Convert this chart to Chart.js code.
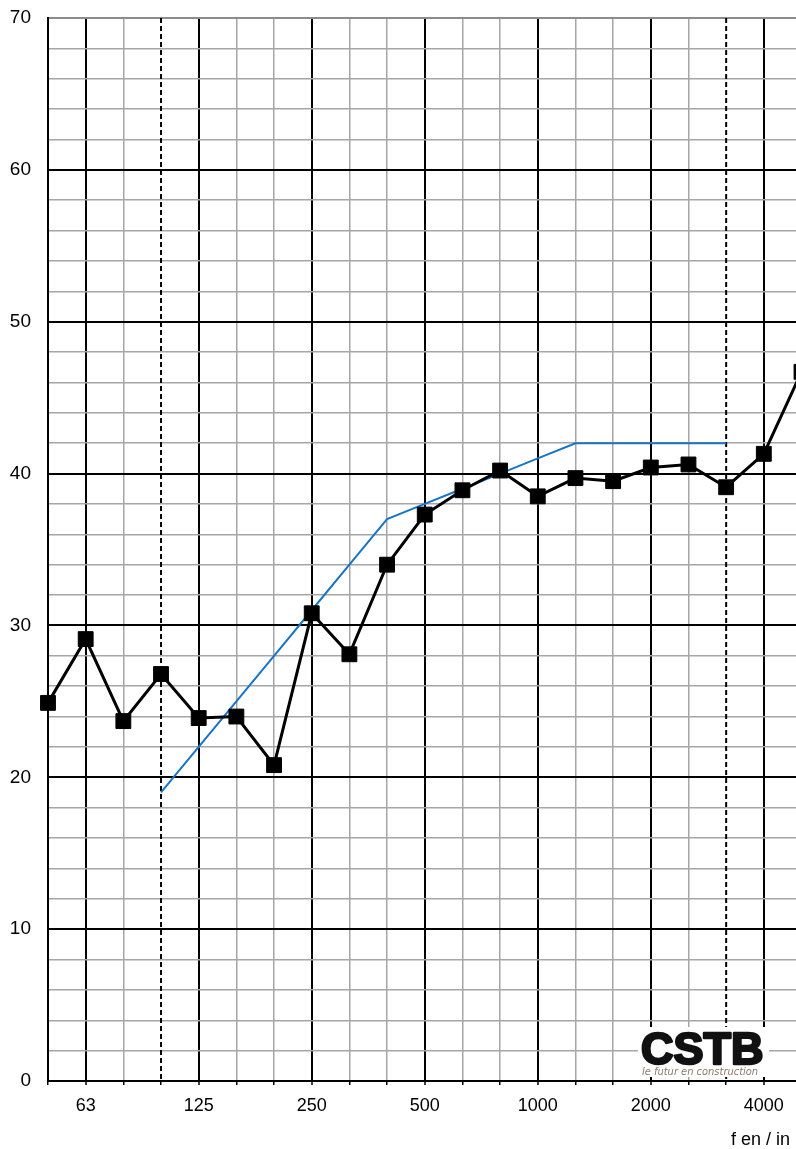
<!DOCTYPE html>
<html lang="fr">
<head>
    <meta charset="UTF-8">
    <title>Indice d'affaiblissement</title>
    <script src="https://cdn.jsdelivr.net/npm/chart.js"></script>
    <style>
        html, body { margin: 0; padding: 0; overflow: hidden; background: #fff; }
    </style>
</head>
<body>
    <canvas id="courbe" width="840" height="1149"></canvas>

    <script>
        // frequences en tiers d'octave
        const frequences = ['50', '63', '80', '100', '125', '160', '200', '250', '315', '400', '500',
                            '630', '800', '1000', '1250', '1600', '2000', '2500', '3150', '4000', '5000'];
        // mesure (dB)
        const mesure = [24.9, 29.1, 23.7, 26.8, 23.9, 24.0, 20.8, 30.8, 28.1, 34.0, 37.3,
                        38.9, 40.2, 38.5, 39.7, 39.5, 40.4, 40.6, 39.1, 41.3, 46.7];
        // courbe de reference decalee (100 - 3150 Hz)
        const reference = [null, null, null, 19, 22, 25, 28, 31, 34, 37, 38,
                           39, 40, 41, 42, 42, 42, 42, 42, null, null];
        const labelsOctave = ['63', '125', '250', '500', '1000', '2000', '4000'];
        const lignesPointillees = ['100', '3150'];

        const NOIR = '#000000';
        const GRIS = '#a6a6a6';

        const decor = {
            id: 'decor',
            beforeDatasetsDraw(chart) {
                const { ctx, chartArea, scales } = chart;
                ctx.save();
                // lignes pointillees 100 et 3150 Hz
                ctx.strokeStyle = NOIR;
                ctx.lineWidth = 2;
                ctx.setLineDash([5, 3]);
                lignesPointillees.forEach(f => {
                    const x = scales.x.getPixelForValue(frequences.indexOf(f));
                    ctx.beginPath();
                    ctx.moveTo(x, chartArea.top);
                    ctx.lineTo(x, chartArea.bottom);
                    ctx.stroke();
                });
                ctx.setLineDash([]);
                // logo CSTB
                ctx.fillStyle = '#ffffff';
                ctx.fillRect(638, 1027, 131, 50);
                ctx.fillStyle = '#111111';
                ctx.strokeStyle = '#111111';
                ctx.lineWidth = 2.5;
                ctx.lineJoin = 'round';
                ctx.font = 'bold 45px "Liberation Sans", Arial, sans-serif';
                ctx.textBaseline = 'alphabetic';
                ctx.textAlign = 'left';
                ctx.fillText('CSTB', 641, 1064);
                ctx.strokeText('CSTB', 641, 1064);
                ctx.fillStyle = '#8c7b6b';
                ctx.font = 'italic 11px "DejaVu Sans Condensed", "Liberation Sans", sans-serif';
                ctx.fillText('le futur en construction', 642, 1075);
                ctx.restore();
            },
            afterDraw(chart) {
                const { ctx } = chart;
                ctx.save();
                ctx.fillStyle = '#000';
                ctx.font = '18px "Liberation Sans", Arial, sans-serif';
                ctx.textBaseline = 'middle';
                ctx.fillText('f en / in Hz', 731, 1140);
                ctx.restore();
            }
        };

        new Chart(document.getElementById('courbe'), {
            type: 'line',
            data: {
                labels: frequences,
                datasets: [{
                    label: 'Mesure',
                    data: mesure,
                    borderColor: NOIR,
                    backgroundColor: NOIR,
                    borderWidth: 3,
                    pointStyle: 'rect',
                    pointRadius: 10.5,
                    pointBorderWidth: 1,
                    tension: 0,
                    clip: false,
                    order: 1
                }, {
                    label: 'Reference',
                    data: reference,
                    borderColor: '#1874c8',
                    borderWidth: 2,
                    pointRadius: 0,
                    tension: 0,
                    spanGaps: false,
                    order: 2
                }]
            },
            options: {
                responsive: false,
                animation: false,
                layout: { padding: { top: 18, right: 38.5, left: 0, bottom: 0 } },
                plugins: {
                    legend: { display: false },
                    tooltip: { enabled: false }
                },
                scales: {
                    x: {
                        type: 'category',
                        offset: false,
                        afterFit: s => {
                            s.height = 68;
                            s.paddingLeft = 0;
                            s.paddingRight = 0;
                        },
                        border: { color: NOIR, width: 2 },
                        grid: {
                            color: c => {
                                const f = frequences[c.index];
                                if (lignesPointillees.includes(f)) return 'rgba(0,0,0,0)';
                                return labelsOctave.includes(f) ? NOIR : GRIS;
                            },
                            lineWidth: c => labelsOctave.includes(frequences[c.index]) ? 2 : 1.5,
                            tickColor: NOIR,
                            tickLength: 4,
                            tickWidth: 1.5
                        },
                        ticks: {
                            autoSkip: false,
                            maxRotation: 0,
                            padding: 10,
                            color: NOIR,
                            font: { family: '"Liberation Sans", Arial, sans-serif', size: 18 },
                            callback: function (v, i) {
                                const f = frequences[i];
                                return labelsOctave.includes(f) ? f : '';
                            }
                        }
                    },
                    y: {
                        min: 0,
                        max: 70,
                        afterFit: s => {
                            s.width = 48;
                            s.paddingTop = 0;
                            s.paddingBottom = 0;
                        },
                        border: { color: NOIR, width: 2 },
                        grid: {
                            drawTicks: false,
                            color: c => {
                                const v = c.tick.value;
                                if (v === 70) return '#8c8c8c';
                                return v % 10 === 0 ? NOIR : GRIS;
                            },
                            lineWidth: c => (c.tick.value % 10 === 0 ? 2 : 1.5)
                        },
                        ticks: {
                            stepSize: 2,
                            autoSkip: false,
                            padding: 17,
                            color: NOIR,
                            font: { family: '"Liberation Sans", Arial, sans-serif', size: 19 },
                            callback: v => (Math.round(v) % 10 === 0 ? Math.round(v) : '')
                        }
                    }
                }
            },
            plugins: [decor]
        });
    </script>
</body>
</html>
